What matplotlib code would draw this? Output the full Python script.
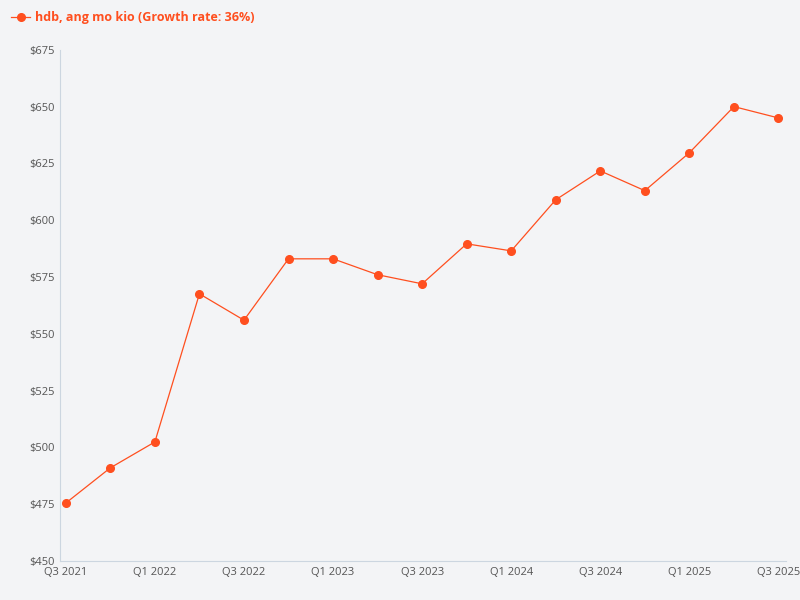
import matplotlib
matplotlib.use("Agg")
import matplotlib.pyplot as plt

quarters = ["Q3 2021","Q4 2021","Q1 2022","Q2 2022","Q3 2022","Q4 2022","Q1 2023","Q2 2023","Q3 2023",
            "Q4 2023","Q1 2024","Q2 2024","Q3 2024","Q4 2024","Q1 2025","Q2 2025","Q3 2025"]
values = [475.5,491,502.4,567.6,556,583,583,576,572,589.6,586.5,609,621.7,613,629.7,650,645]
yticks = [450,475,500,525,550,575,600,625,650,675]

plt.rcParams['font.family'] = ['Open Sans', 'DejaVu Sans']
bg = '#f3f4f6'
color = '#ff4f1f'
fig = plt.figure(figsize=(8,6), dpi=100, facecolor=bg)
ax = fig.add_axes([0.075, 0.065, 0.907, 0.852], facecolor=bg)
x = list(range(len(quarters)))
ax.plot(x, values, color=color, lw=0.9, marker='o', ms=5.5, label='hdb, ang mo kio (Growth rate: 36%)')
ax.set_ylim(450, 675)
ax.set_xlim(-0.13, 16.16)
ax.set_yticks(yticks)
ax.set_yticklabels([f"${v}" for v in yticks])
ax.set_xticks(x[::2])
ax.set_xticklabels(quarters[::2])
ax.tick_params(labelsize=8, colors='#555555', length=0, pad=4)
for s in ['top','right']:
    ax.spines[s].set_visible(False)
for s in ['left','bottom']:
    ax.spines[s].set_color('#ccd6e0')
    ax.spines[s].set_linewidth(0.8)
leg = fig.legend(loc='upper left', bbox_to_anchor=(0.0, 1.0), frameon=False,
                 prop={'size': 9, 'weight': 'bold'},
                 handlelength=1.5, handletextpad=0.4)
for t in leg.get_texts():
    t.set_color(color)
fig.savefig('out.png', dpi=100, facecolor=bg)
